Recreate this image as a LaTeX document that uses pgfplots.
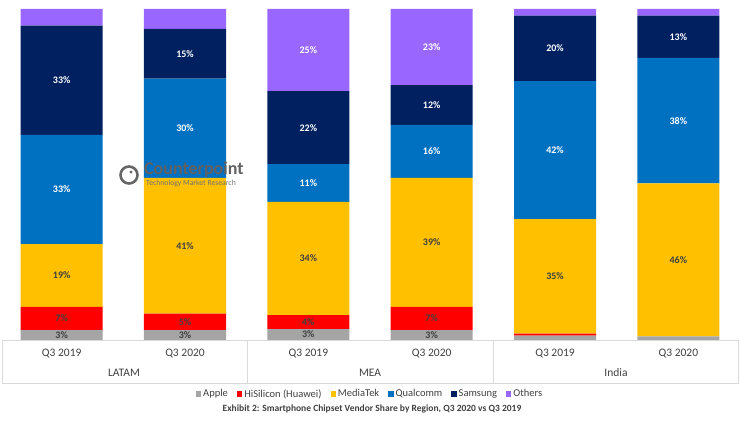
\documentclass[border=0pt]{standalone}
\usepackage{pgfplots}
\pgfplotsset{compat=1.18}
\usepackage{fontspec}
\setmainfont{Carlito}
\definecolor{capple}{HTML}{A5A5A5}
\definecolor{chisi}{HTML}{FF0000}
\definecolor{cmtk}{HTML}{FFC000}
\definecolor{cqc}{HTML}{0070C0}
\definecolor{csam}{HTML}{002060}
\definecolor{coth}{HTML}{9966FF}
\definecolor{txt}{HTML}{404040}
\definecolor{grid}{HTML}{D9D9D9}
\begin{document}
\begin{tikzpicture}
\useasboundingbox (0,-95bp) rectangle (740bp,340bp);
\begin{axis}[
  at={(0,0)}, anchor=south west,
  scale only axis, width=740bp, height=331bp,
  ybar stacked, bar width=82bp,
  xmin=-0.5, xmax=5.5, ymin=0, ymax=100,
  axis line style={draw=none},
  ytick=\empty,
  xtick={0,1,2,3,4,5},
  xticklabels={Q3 2019,Q3 2020,Q3 2019,Q3 2020,Q3 2019,Q3 2020},
  major tick length=0pt,
  xticklabel style={anchor=center, yshift=-14bp, text=txt, font=\fontsize{11.5bp}{13bp}\selectfont},
  point meta=explicit symbolic,
  nodes near coords,
  every node near coord/.append style={anchor=center, text=txt, font=\bfseries\fontsize{10bp}{11bp}\selectfont},
  legend style={at={(0.5,-0.163)}, anchor=center, draw=none, legend columns=6,
    font=\fontsize{10.5bp}{12bp}\selectfont, text=txt,
    /tikz/every even column/.append style={column sep=7bp}},
  legend image code/.code={\fill[#1] (0bp,-2.7bp) rectangle (5.4bp,2.7bp);},
]
\addplot[fill=capple, draw=none] coordinates {(0,3)[3\%] (1,3)[3\%] (2,3.3)[3\%] (3,3)[3\%] (4,1.3)[\relax] (5,1.1)[\relax]};
\addplot[fill=chisi, draw=none] coordinates {(0,7)[7\%] (1,5)[5\%] (2,4.2)[4\%] (3,7)[7\%] (4,0.6)[\relax] (5,0)[\relax]};
\addplot[fill=cmtk, draw=none] coordinates {(0,19)[19\%] (1,41)[41\%] (2,34.2)[34\%] (3,39)[39\%] (4,34.6)[35\%] (5,46.2)[46\%]};
\addplot[fill=cqc, draw=none] coordinates {(0,33)[\textcolor{white}{33\%}] (1,30)[\textcolor{white}{30\%}] (2,11.4)[\textcolor{white}{11\%}] (3,16)[\textcolor{white}{16\%}] (4,41.7)[\textcolor{white}{42\%}] (5,37.9)[\textcolor{white}{38\%}]};
\addplot[fill=csam, draw=none] coordinates {(0,33)[\textcolor{white}{33\%}] (1,15)[\textcolor{white}{15\%}] (2,22.1)[\textcolor{white}{22\%}] (3,12)[\textcolor{white}{12\%}] (4,19.8)[\textcolor{white}{20\%}] (5,12.8)[\textcolor{white}{13\%}]};
\addplot[fill=coth, draw=none] coordinates {(0,5)[\relax] (1,6)[\relax] (2,24.8)[\textcolor{white}{25\%}] (3,23)[\textcolor{white}{23\%}] (4,2)[\relax] (5,2)[\relax]};
\legend{Apple, HiSilicon (Huawei), MediaTek, Qualcomm, Samsung, Others}
\end{axis}
% category table
\draw[grid, line width=0.6bp] (2bp,0) rectangle (738bp,-43bp);
\draw[grid, line width=0.6bp] (247bp,0) -- (247bp,-43bp);
\draw[grid, line width=0.6bp] (493bp,0) -- (493bp,-43bp);
\node[text=txt, font=\fontsize{11.5bp}{13bp}\selectfont] at (124bp,-33bp) {LATAM};
\node[text=txt, font=\fontsize{11.5bp}{13bp}\selectfont] at (370bp,-33bp) {MEA};
\node[text=txt, font=\fontsize{11.5bp}{13bp}\selectfont] at (616bp,-33bp) {India};
\node[text=txt, font=\bfseries\fontsize{9.5bp}{11bp}\selectfont] at (372bp,-69bp) {Exhibit 2: Smartphone Chipset Vendor Share by Region, Q3 2020 vs Q3 2019};
% watermark
\draw[black!60, line width=2.6bp] (129bp,165bp) circle (8.5bp);
\fill[black!60] (131bp,168bp) circle (1.6bp);
\node[anchor=west, text=black!62, font=\bfseries\fontsize{18bp}{20bp}\selectfont, inner sep=0pt] at (144bp,170bp) {Counterpoint};
\node[anchor=west, text=black!55, font=\fontsize{7.7bp}{9bp}\selectfont, inner sep=0pt] at (146bp,157bp) {Technology Market Research};
\end{tikzpicture}
\end{document}
